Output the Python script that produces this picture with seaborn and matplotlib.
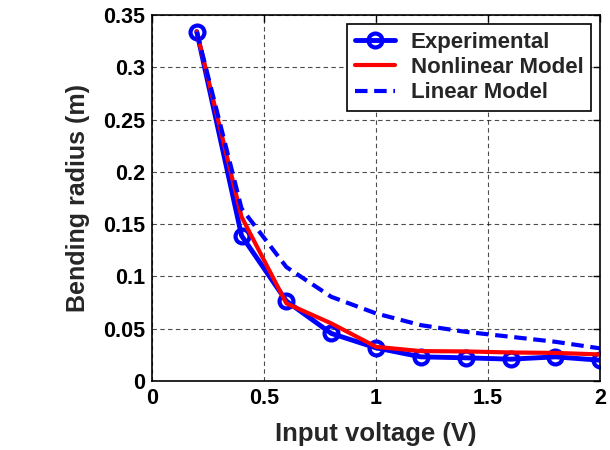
import numpy as np
import pandas as pd
import matplotlib
matplotlib.use("Agg")
import matplotlib.pyplot as plt
import seaborn as sns

# Values
voltage = [0.2, 0.4, 0.6, 0.8, 1.0, 1.2, 1.4, 1.6, 1.8, 2.0]
experimental = [0.334, 0.139, 0.0765, 0.0456, 0.0318, 0.0232, 0.0223, 0.021, 0.0232, 0.020]
nonlinear = [0.334, 0.157, 0.0743, 0.0552, 0.0328, 0.0287, 0.0284, 0.0274, 0.027, 0.0255]
linear = [0.334, 0.165, 0.109, 0.0806, 0.0647, 0.0535, 0.0471, 0.0424, 0.0376, 0.0313]

sns.set_style("white")
plt.rcParams['font.family'] = ['Liberation Sans', 'DejaVu Sans']
plt.rcParams['font.weight'] = 'bold'

fig = plt.figure(figsize=(6.1, 4.5), dpi=100)
ax = fig.add_axes([0.249, 0.153, 0.735, 0.814])

sns.lineplot(x=voltage, y=experimental, ax=ax, color="blue", lw=3.5,
             marker="o", markersize=10, markerfacecolor="none",
             markeredgecolor="blue", markeredgewidth=3, label="Experimental")
sns.lineplot(x=voltage, y=nonlinear, ax=ax, color="red", lw=3, label="Nonlinear Model")
sns.lineplot(x=voltage, y=linear, ax=ax, color="blue", lw=3, linestyle="--",
             label="Linear Model")
ax.lines[-1].set_dashes((3, 1.6))

ax.set_xlim(0, 2)
ax.set_ylim(0, 0.35)
ax.set_xticks([0, 0.5, 1, 1.5, 2])
ax.set_xticklabels(["0", "0.5", "1", "1.5", "2"])
ax.set_yticks(np.arange(0, 0.351, 0.05))
ax.set_yticklabels(["0", "0.05", "0.1", "0.15", "0.2", "0.25", "0.3", "0.35"])
ax.tick_params(direction="in", length=5, width=1, labelsize=15.5, pad=5,
               top=True, right=True, colors="black")
for lab in ax.get_xticklabels() + ax.get_yticklabels():
    lab.set_fontweight("bold")
ax.grid(True, color="black", linestyle=(0, (4, 3)), lw=0.8, alpha=0.7)
for sp in ax.spines.values():
    sp.set_visible(True)
    sp.set_color("black")
    sp.set_linewidth(1.2)

ax.set_xlabel("Input voltage (V)", fontsize=18.5, fontweight="bold", labelpad=9)
ax.set_ylabel("Bending radius (m)", fontsize=18, fontweight="bold", labelpad=9)

leg = ax.legend(loc="upper right", fontsize=16, frameon=True, fancybox=False,
                edgecolor="black", framealpha=1, handlelength=1.8,
                handletextpad=0.7, borderaxespad=0.4, labelspacing=0.2,
                borderpad=0.35)
leg.get_frame().set_linewidth(1.2)
for t in leg.get_texts():
    t.set_fontweight("bold")

fig.savefig("out.png", dpi=100)
